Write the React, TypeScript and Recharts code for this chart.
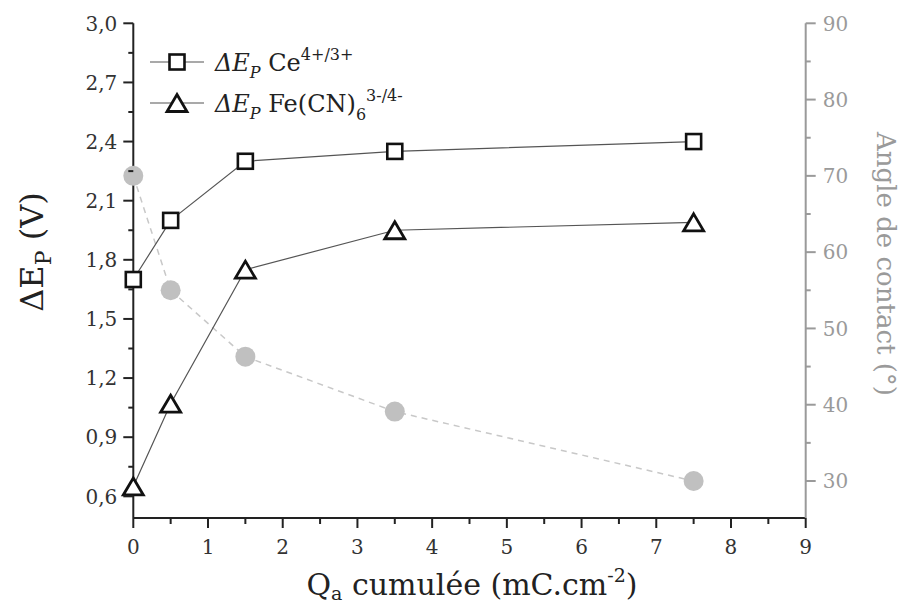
import { ComposedChart, Label, Legend, Line, XAxis, YAxis } from 'recharts';

const qa = [0, 0.5, 1.5, 3.5, 7.5];
const deltaCe = [1.7, 2.0, 2.3, 2.35, 2.4];
const deltaFe = [0.65, 1.07, 1.75, 1.95, 1.99];
const angle = [70, 55, 46.3, 39.1, 30];

const xTicks = [0, 0.5, 1, 1.5, 2, 2.5, 3, 3.5, 4, 4.5, 5, 5.5, 6, 6.5, 7, 7.5, 8, 8.5, 9];
const xMajor = [0, 1, 2, 3, 4, 5, 6, 7, 8, 9];
const leftTicks = [0.6, 0.75, 0.9, 1.05, 1.2, 1.35, 1.5, 1.65, 1.8, 1.95, 2.1, 2.25, 2.4, 2.55, 2.7, 2.85, 3.0];
const leftMajor = [0.6, 0.9, 1.2, 1.5, 1.8, 2.1, 2.4, 2.7, 3.0];
const rightTicks = [30, 35, 40, 45, 50, 55, 60, 65, 70, 75, 80, 85, 90];
const rightMajor = [30, 40, 50, 60, 70, 80, 90];

const FONT = '"DejaVu Serif", serif';
const INK = '#222';
const GREY = '#9a9a9a';

const data = qa.map((q, i) => ({ qa: q, ce: deltaCe[i], fe: deltaFe[i], angle: angle[i] }));

const isMajor = (v: number, majors: number[]) => majors.some((m) => Math.abs(m - v) < 1e-6);

function BottomTick({ x, y, payload }: any) {
  const major = isMajor(payload.value, xMajor);
  return (
    <g>
      <line x1={x} x2={x} y1={y} y2={y + (major ? 10 : 6)} stroke={INK} strokeWidth={2} />
      {major && (
        <text x={x} y={y + 29} dy="0.36em" textAnchor="middle" fontSize={20} fontFamily={FONT} fill="#333">
          {payload.value}
        </text>
      )}
    </g>
  );
}

function TopTick({ x, y, payload }: any) {
  const major = isMajor(payload.value, xMajor);
  return <line x1={x} x2={x} y1={y} y2={y + (major ? 9 : 7)} stroke={INK} strokeWidth={2} />;
}

function LeftTick({ x, y, payload }: any) {
  const major = isMajor(payload.value, leftMajor);
  return (
    <g>
      <line x1={x - (major ? 10 : 5)} x2={x} y1={y} y2={y} stroke={INK} strokeWidth={2} />
      {major && (
        <text x={x - 16} y={y} dy="0.36em" textAnchor="end" fontSize={20} fontFamily={FONT} fill="#333">
          {payload.value.toFixed(1).replace('.', ',')}
        </text>
      )}
    </g>
  );
}

function RightTick({ x, y, payload }: any) {
  const major = isMajor(payload.value, rightMajor);
  return (
    <g>
      <line x1={x} x2={x + (major ? 10 : 5)} y1={y} y2={y} stroke={GREY} strokeWidth={2} />
      {major && (
        <text x={x + 17} y={y} dy="0.36em" textAnchor="start" fontSize={20} fontFamily={FONT} fill={GREY}>
          {payload.value}
        </text>
      )}
    </g>
  );
}

const Square = ({ cx, cy }: { cx: number; cy: number }) => (
  <rect x={cx - 7.5} y={cy - 7.5} width={15} height={15} fill="#fff" stroke="#111" strokeWidth={2.6} />
);

const Triangle = ({ cx, cy }: { cx: number; cy: number }) => (
  <polygon
    points={`${cx},${cy - 8.5} ${cx + 10},${cy + 8.5} ${cx - 10},${cy + 8.5}`}
    fill="#fff"
    stroke="#111"
    strokeWidth={2.8}
    strokeLinejoin="miter"
  />
);

function LegendBox() {
  return (
    <svg width={280} height={90} style={{ overflow: 'visible' }}>
      <line x1={0} x2={54} y1={20} y2={20} stroke="#555" strokeWidth={1.2} />
      <Square cx={27} cy={20} />
      <text x={65} y={20} dy="0.36em" fontSize={24} fontFamily={FONT} fill={INK}>
        <tspan fontStyle="italic">ΔE</tspan>
        <tspan fontStyle="italic" fontSize={16} dy={7}>P</tspan>
        <tspan dy={-7}> Ce</tspan>
        <tspan fontSize={16} dy={-11}>4+/3+</tspan>
      </text>
      <line x1={0} x2={54} y1={61} y2={61} stroke="#555" strokeWidth={1.2} />
      <Triangle cx={27} cy={61} />
      <text x={65} y={61} dy="0.36em" fontSize={24} fontFamily={FONT} fill={INK}>
        <tspan fontStyle="italic">ΔE</tspan>
        <tspan fontStyle="italic" fontSize={16} dy={7}>P</tspan>
        <tspan dy={-7}> Fe(CN)</tspan>
        <tspan fontSize={16} dy={8}>6</tspan>
        <tspan fontSize={16} dy={-19}>3-/4-</tspan>
      </text>
    </svg>
  );
}

const LeftTitle = () => (
  <text x={35} y={244} transform="rotate(-90, 35, 244)" textAnchor="middle" fontSize={32} fontFamily={FONT} fill={INK}>
    ΔE
    <tspan fontSize={22} dy={8}>P</tspan>
    <tspan dy={-8}> (V)</tspan>
  </text>
);

const RightTitle = () => (
  <text x={869} y={256} transform="rotate(90, 869, 256)" textAnchor="middle" fontSize={26} fontFamily={FONT} fill={GREY}>
    Angle de contact (°)
  </text>
);

const BottomTitle = () => (
  <text x={464} y={587} textAnchor="middle" fontSize={30} fontFamily={FONT} fill={INK}>
    Q
    <tspan fontSize={19} dy={5}>a</tspan>
    <tspan dy={-5}> cumulée (mC.cm</tspan>
    <tspan fontSize={19} dy={-13}>-2</tspan>
    <tspan dy={13}>)</tspan>
  </text>
);

export default function App() {
  return (
    <ComposedChart width={899} height={596} data={data} margin={{ top: 15.3, right: 41.3, bottom: 36, left: 65.3 }}>
      <XAxis
        dataKey="qa"
        type="number"
        domain={[0, 9]}
        ticks={xTicks}
        interval={0}
        height={50}
        tickSize={0}
        tickMargin={0}
        tickLine={false}
        tick={BottomTick}
        axisLine={{ stroke: INK, strokeWidth: 2 }}
      >
        <Label content={BottomTitle} />
      </XAxis>
      <XAxis
        xAxisId="top"
        orientation="top"
        type="number"
        domain={[0, 9]}
        ticks={xTicks}
        interval={0}
        height={0}
        tickSize={0}
        tickMargin={0}
        tickLine={false}
        tick={TopTick}
        axisLine={{ stroke: INK, strokeWidth: 2 }}
      />
      <YAxis
        yAxisId="left"
        type="number"
        domain={[0.49, 3.0]}
        ticks={leftTicks}
        interval={0}
        width={60}
        tickSize={0}
        tickMargin={0}
        tickLine={false}
        tick={LeftTick}
        axisLine={{ stroke: INK, strokeWidth: 2 }}
      >
        <Label content={LeftTitle} />
      </YAxis>
      <YAxis
        yAxisId="right"
        orientation="right"
        type="number"
        domain={[25.15, 90]}
        ticks={rightTicks}
        interval={0}
        width={60}
        tickSize={0}
        tickMargin={0}
        tickLine={false}
        tick={RightTick}
        axisLine={{ stroke: GREY, strokeWidth: 2 }}
      >
        <Label content={RightTitle} />
      </YAxis>
      <Legend
        layout="vertical"
        align="center"
        verticalAlign="middle"
        content={LegendBox}
        wrapperStyle={{ position: 'absolute', left: 142, top: 34, width: 'auto', height: 'auto' }}
      />
      <Line
        yAxisId="right"
        dataKey="angle"
        stroke="#c8c8c8"
        strokeWidth={1.5}
        strokeDasharray="6 5"
        dot={(p: any) => <circle key={p.index} cx={p.cx} cy={p.cy} r={10} fill="#c0c0c0" />}
        activeDot={false}
        legendType="none"
        isAnimationActive={false}
      />
      <Line
        yAxisId="left"
        dataKey="ce"
        name="ΔEP Ce4+/3+"
        stroke="#555"
        strokeWidth={1.2}
        dot={(p: any) => <Square key={p.index} cx={p.cx} cy={p.cy} />}
        activeDot={false}
        isAnimationActive={false}
      />
      <Line
        yAxisId="left"
        dataKey="fe"
        name="ΔEP Fe(CN)6 3-/4-"
        stroke="#555"
        strokeWidth={1.2}
        dot={(p: any) => <Triangle key={p.index} cx={p.cx} cy={p.cy} />}
        activeDot={false}
        isAnimationActive={false}
      />
    </ComposedChart>
  );
}
